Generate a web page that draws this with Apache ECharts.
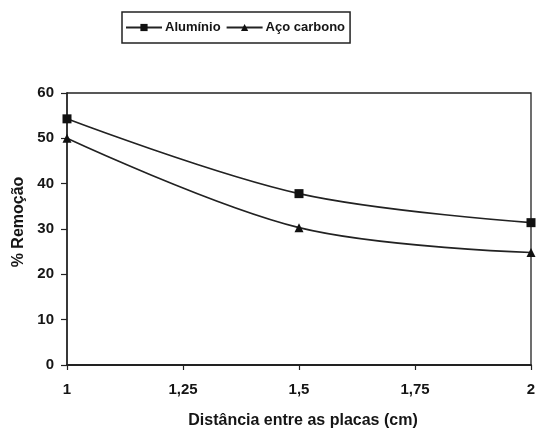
<!DOCTYPE html>
<html>
<head>
<meta charset="utf-8">
<script src="https://cdn.jsdelivr.net/npm/echarts@6/dist/echarts.min.js"></script>
<style>
  html, body { margin: 0; padding: 0; background: #fff; }
  #chart { width: 540px; height: 434px; }
</style>
</head>
<body>
<div id="chart"></div>
<script>
// Distance between plates (cm)
const distancias = [1, 1.5, 2];
// % removal per electrode material
const aluminio = [54.3, 37.8, 31.4];
const acoCarbono = [50.0, 30.3, 24.8];
const nomesSeries = ['Alumínio', 'Aço carbono'];

const fonte = 'Arial, "Liberation Sans", sans-serif';
const cor = '#151515';

const chart = echarts.init(document.getElementById('chart'), null, { renderer: 'canvas' });

const pares = (ys) => distancias.map((x, i) => [x, ys[i]]);

chart.setOption({
  backgroundColor: '#fff',
  animation: false,
  legend: {
    left: 122,
    top: 12,
    padding: [9, 5, 9, 3],
    itemGap: 5,
    itemWidth: 36,
    itemHeight: 9,
    borderColor: '#222',
    borderWidth: 1.5,
    borderRadius: 0,
    textStyle: { fontFamily: fonte, fontSize: 13, fontWeight: 'bold', color: cor, padding: [0, 0, 0, -2] },
    data: nomesSeries
  },
  grid: { left: 67, right: 9, top: 93, bottom: 68 },
  xAxis: {
    type: 'value',
    min: 1,
    max: 2,
    interval: 0.25,
    name: 'Distância entre as placas (cm)',
    nameLocation: 'middle',
    nameGap: 48,
    nameTextStyle: { fontFamily: fonte, fontSize: 16, fontWeight: 'bold', color: cor, padding: [0, 0, 0, 8] },
    axisLine: { show: true, lineStyle: { color: '#222', width: 1.8 } },
    axisTick: { show: true, length: 5, lineStyle: { color: '#222', width: 1.2 } },
    axisLabel: {
      fontFamily: fonte, fontSize: 15, fontWeight: 'bold', color: cor, margin: 17,
      formatter: (v) => String(v).replace('.', ',')
    },
    splitLine: { show: false }
  },
  yAxis: {
    type: 'value',
    min: 0,
    max: 60,
    interval: 10,
    name: '% Remoção',
    nameLocation: 'middle',
    nameRotate: 90,
    nameGap: 37,
    nameTextStyle: { fontFamily: fonte, fontSize: 16, fontWeight: 'bold', color: cor, padding: [0, 0, 0, 14] },
    axisLine: { show: true, lineStyle: { color: '#222', width: 1.8 } },
    axisTick: { show: true, length: 6, lineStyle: { color: '#222', width: 1.2 } },
    axisLabel: { fontFamily: fonte, fontSize: 15, fontWeight: 'bold', color: cor, margin: 13 },
    splitLine: { show: false }
  },
  series: [
    {
      name: nomesSeries[0],
      type: 'line',
      smooth: 0.35,
      data: pares(aluminio),
      symbol: 'rect',
      symbolSize: 9,
      lineStyle: { color: '#222', width: 1.6 },
      itemStyle: { color: '#111' }
    },
    {
      name: nomesSeries[1],
      type: 'line',
      smooth: 0.35,
      data: pares(acoCarbono),
      symbol: 'triangle',
      symbolSize: 9,
      lineStyle: { color: '#222', width: 1.6 },
      itemStyle: { color: '#111' }
    }
  ],
  graphic: [
    {
      // top and right frame of the plot area
      type: 'polyline',
      silent: true,
      shape: { points: [[67, 93], [531, 93], [531, 366]] },
      style: { stroke: '#222', lineWidth: 1.3, fill: null }
    }
  ]
});
</script>
</body>
</html>
